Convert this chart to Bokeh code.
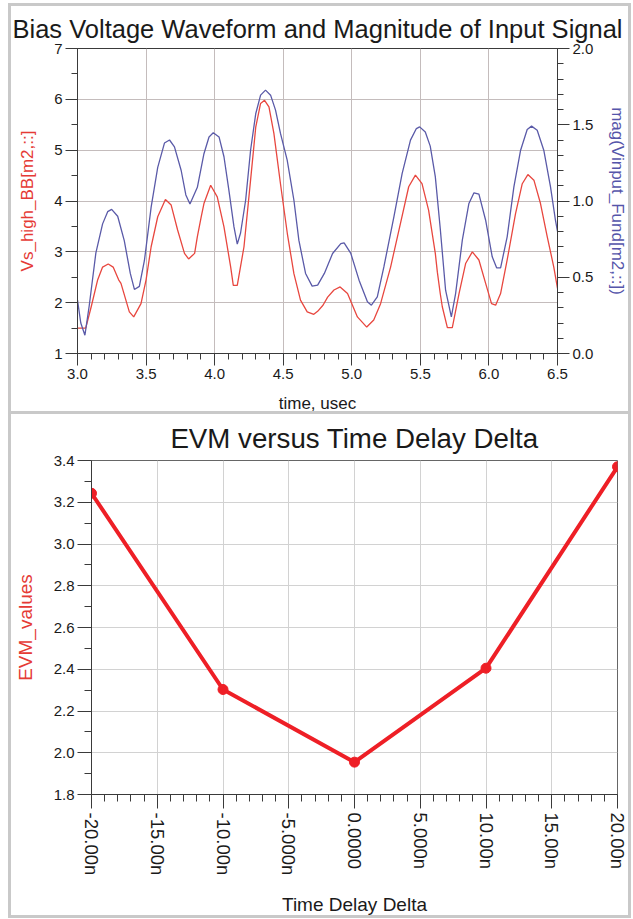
import math
from bokeh.plotting import figure
from bokeh.models import (Range1d, LinearAxis, SingleIntervalTicker, FixedTicker,
                          NumeralTickFormatter)
from bokeh.embed import file_html
from bokeh.resources import INLINE

FONT = "Liberation Sans"

# ---------------- top chart data ----------------
t_vs = [3.00, 3.06, 3.10, 3.146, 3.183, 3.224, 3.26, 3.30, 3.317, 3.378, 3.41, 3.463,
        3.50, 3.537, 3.585, 3.641, 3.683, 3.73, 3.78, 3.81, 3.854, 3.874, 3.902, 3.922,
        3.971, 4.019, 4.068, 4.117, 4.136, 4.165, 4.214, 4.262, 4.30, 4.335, 4.364,
        4.396, 4.432, 4.48, 4.53, 4.578, 4.626, 4.675, 4.723, 4.751, 4.79, 4.824, 4.87,
        4.915, 4.969, 5.041, 5.109, 5.16, 5.21, 5.283, 5.355, 5.415, 5.464, 5.512, 5.56,
        5.609, 5.624, 5.645, 5.66, 5.697, 5.733, 5.782, 5.83, 5.879, 5.927, 5.976, 6.019,
        6.049, 6.085, 6.133, 6.194, 6.243, 6.284, 6.328, 6.376, 6.425, 6.473, 6.50]
vs_high_bb = [1.50, 1.50, 1.92, 2.44, 2.70, 2.76, 2.70, 2.45, 2.38, 1.82, 1.72, 1.98,
              2.45, 3.10, 3.69, 4.03, 3.92, 3.43, 2.97, 2.86, 2.97, 3.30, 3.69, 3.95,
              4.31, 4.08, 3.49, 2.70, 2.34, 2.34, 3.10, 4.41, 5.46, 5.92, 5.98,
              5.85, 5.33, 4.34, 3.36, 2.57, 2.05, 1.82, 1.77, 1.83, 1.95, 2.11, 2.25,
              2.31, 2.18, 1.72, 1.52, 1.66, 1.98, 2.70, 3.56, 4.28, 4.51, 4.34, 3.82,
              2.97, 2.60, 2.18, 1.92, 1.51, 1.51, 2.18, 2.77, 3.00, 2.84, 2.38, 1.98,
              1.95, 2.18, 2.84, 3.75, 4.34, 4.52, 4.41, 3.95, 3.30, 2.70, 2.28]

t_mag = [3.00, 3.024, 3.054, 3.085, 3.134, 3.183, 3.22, 3.249, 3.293, 3.341, 3.385, 3.415,
         3.451, 3.488, 3.537, 3.585, 3.634, 3.671, 3.707, 3.756, 3.79, 3.82, 3.874, 3.922,
         3.959, 3.99, 4.032, 4.068, 4.104, 4.141, 4.165, 4.189, 4.226, 4.262, 4.30, 4.335,
         4.371, 4.408, 4.444, 4.48, 4.529, 4.578, 4.614, 4.663, 4.711, 4.751, 4.80, 4.86,
         4.92, 4.944, 4.993, 5.053, 5.114, 5.143, 5.186, 5.234, 5.307, 5.367, 5.428, 5.471,
         5.495, 5.536, 5.572, 5.609, 5.645, 5.684, 5.726, 5.757, 5.806, 5.854, 5.891, 5.927,
         5.976, 6.024, 6.056, 6.085, 6.133, 6.182, 6.231, 6.279, 6.311, 6.352, 6.40, 6.449,
         6.485, 6.50]
mag_vinput = [0.35, 0.20, 0.12, 0.31, 0.66, 0.85, 0.93, 0.945, 0.90, 0.74, 0.525, 0.42,
              0.44, 0.61, 0.96, 1.22, 1.38, 1.40, 1.355, 1.20, 1.04, 0.98, 1.09, 1.31,
              1.42, 1.447, 1.42, 1.29, 1.07, 0.83, 0.717, 0.79, 1.005, 1.333, 1.574, 1.694,
              1.727, 1.694, 1.596, 1.443, 1.268, 1.005, 0.743, 0.525, 0.442, 0.448, 0.525, 0.656,
              0.721, 0.726, 0.656, 0.481, 0.339, 0.317, 0.372, 0.568, 0.896, 1.18, 1.399, 1.475,
              1.486, 1.453, 1.36, 1.16, 0.82, 0.415, 0.24, 0.393, 0.743, 0.984, 1.054, 1.045,
              0.874, 0.634, 0.562, 0.562, 0.765, 1.093, 1.333, 1.469, 1.491, 1.464, 1.333, 1.093,
              0.874, 0.80]

# ---------------- bottom chart data ----------------
delay_ns = [-20, -10, 0, 10, 20]
evm_values = [3.243, 2.303, 1.955, 2.405, 3.370]
delay_ticks = [-20, -15, -10, -5, 0, 5, 10, 15, 20]
delay_tick_labels = ["-20.00n", "-15.00n", "-10.00n", "-5.000n", "0.0000",
                     "5.000n", "10.00n", "15.00n", "20.00n"]
evm_ticks = [1.8, 2.0, 2.2, 2.4, 2.6, 2.8, 3.0, 3.2, 3.4]
evm_minor_ticks = [1.9, 2.1, 2.3, 2.5, 2.7, 2.9, 3.1, 3.3]

RED_TOP = "#e8473f"
BLUE_TOP = "#5a5aa8"
RED_LABEL = "#e53a35"
BLUE_LABEL = "#5555aa"
RED_EVM = "#ee1f26"
AXIS = "#3a3a3a"
TXT = "#1a1a1a"
PANEL_BORDER = "3px solid #c9c9c9"

# frame geometry (pixels)
F1_W, F1_H = 480, 305
F2_W, F2_H = 529, 334


def style_axis(ax, tick_out, minor_out, font_px, standoff=3):
    ax.axis_line_color = AXIS
    ax.major_tick_line_color = AXIS
    ax.minor_tick_line_color = AXIS
    ax.major_tick_out = tick_out
    ax.major_tick_in = 0
    ax.minor_tick_out = minor_out
    ax.minor_tick_in = 0
    ax.major_label_text_font = FONT
    ax.major_label_text_font_size = f"{font_px}px"
    ax.major_label_text_color = TXT
    ax.major_label_standoff = standoff
    ax.axis_label_text_font = FONT
    ax.axis_label_text_font_style = "normal"


def style_title(t, text, size, standoff):
    t.text = text
    t.align = "center"
    t.text_font = FONT
    t.text_font_size = size
    t.text_font_style = "normal"
    t.text_color = TXT
    t.standoff = standoff


# ================= top figure =================
# the 3px CSS border is drawn inside the box, so 6px of the layout on the right/bottom is hidden
p1 = figure(width=623, height=411, output_backend="svg", toolbar_location=None,
            x_range=Range1d(3.0, 6.5), y_range=Range1d(1, 7),
            min_border_left=66, min_border_right=623 - 66 - F1_W,
            min_border_top=42, min_border_bottom=411 - 42 - F1_H)
p1.styles = {"border": PANEL_BORDER, "margin-left": "8px", "margin-top": "3px"}
p1.extra_y_ranges = {"mag": Range1d(0.0, 2.0)}
style_title(p1.title, "Bias Voltage Waveform and Magnitude of Input Signal", "25.5px", 12)
p1.outline_line_color = AXIS
p1.outline_line_alpha = 1.0

xt = SingleIntervalTicker(interval=0.5, num_minor_ticks=5)
p1.xaxis.ticker = xt
p1.xaxis.formatter = NumeralTickFormatter(format="0.0")
style_axis(p1.xaxis[0], 12, 6, 15)
p1.xaxis.axis_label = "time, usec"
p1.xaxis.axis_label_text_font_size = "17px"
p1.xaxis.axis_label_text_color = TXT
p1.xaxis.axis_label_standoff = 12

yt = SingleIntervalTicker(interval=1, num_minor_ticks=2)
p1.yaxis.ticker = yt
p1.yaxis.formatter = NumeralTickFormatter(format="0")
style_axis(p1.yaxis[0], 12, 6, 15)
p1.yaxis.axis_label = "Vs_high_BB[m2,::]"
p1.yaxis.axis_label_text_color = RED_LABEL
p1.yaxis.axis_label_text_font_size = "17px"
p1.yaxis.axis_label_standoff = 14

ry = LinearAxis(y_range_name="mag", ticker=SingleIntervalTicker(interval=0.5, num_minor_ticks=5),
                formatter=NumeralTickFormatter(format="0.0"))
style_axis(ry, 12, 6, 15)
ry.axis_label = "mag(Vinput_Fund[m2,::])"
ry.axis_label_text_color = BLUE_LABEL
ry.axis_label_text_font_size = "17px"
ry.axis_label_standoff = 12
p1.add_layout(ry, "right")

p1.xgrid.ticker = xt
p1.ygrid.ticker = yt
p1.xgrid.grid_line_color = "#c4bcbc"
p1.ygrid.grid_line_color = "#c4bcbc"

p1.line(t_vs, vs_high_bb, line_color=RED_TOP, line_width=1.3)
p1.line(t_mag, mag_vinput, line_color=BLUE_TOP, line_width=1.3, y_range_name="mag")

# ================= bottom figure =================
p2 = figure(width=623, height=507, output_backend="svg", toolbar_location=None,
            x_range=Range1d(-20, 20), y_range=Range1d(1.8, 3.4),
            min_border_left=77, min_border_right=623 - 77 - F2_W,
            min_border_top=46, min_border_bottom=507 - 46 - F2_H)
p2.styles = {"border": PANEL_BORDER, "margin-left": "8px", "margin-top": "-3px"}
style_title(p2.title, "EVM versus Time Delay Delta", "27.7px", 13)
p2.outline_line_color = "#666666"

xt2 = FixedTicker(ticks=delay_ticks, minor_ticks=list(range(-20, 21)))
p2.xaxis.ticker = xt2
p2.xaxis.major_label_overrides = dict(zip(delay_ticks, delay_tick_labels))
p2.xaxis.major_label_orientation = -math.pi / 2
style_axis(p2.xaxis[0], 14, 7, 18.5, standoff=4)
p2.xaxis.axis_label = "Time Delay Delta"
p2.xaxis.axis_label_text_font_size = "19px"
p2.xaxis.axis_label_text_color = TXT
p2.xaxis.axis_label_standoff = 16

yt2 = FixedTicker(ticks=evm_ticks, minor_ticks=evm_minor_ticks)
p2.yaxis.ticker = yt2
p2.yaxis.formatter = NumeralTickFormatter(format="0.0")
style_axis(p2.yaxis[0], 14, 7, 15)
p2.yaxis.axis_label = "EVM_values"
p2.yaxis.axis_label_text_color = RED_LABEL
p2.yaxis.axis_label_text_font_size = "19px"
p2.yaxis.axis_label_standoff = 15

p2.xgrid.ticker = xt2
p2.ygrid.ticker = yt2
p2.xgrid.grid_line_color = "#d2d2d2"
p2.ygrid.grid_line_color = "#d2d2d2"

p2.line(delay_ns, evm_values, line_color=RED_EVM, line_width=4)
p2.scatter(delay_ns, evm_values, size=10, fill_color=RED_EVM, line_color=RED_EVM)

open("out.html", "w").write(file_html([p1, p2], INLINE))
